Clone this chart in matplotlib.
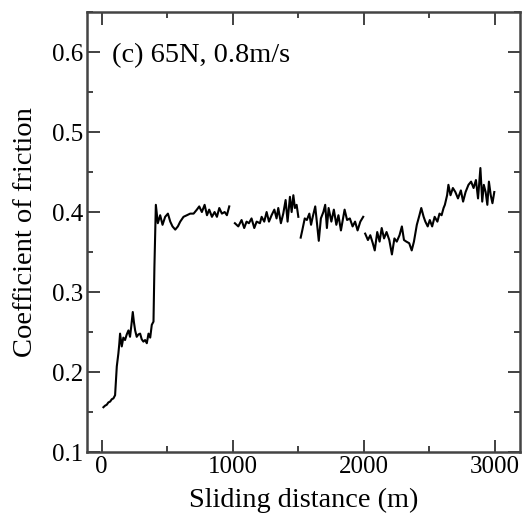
import numpy as np
import matplotlib
matplotlib.use("Agg")
from matplotlib import pyplot as plt
from matplotlib.ticker import MultipleLocator

# friction trace; the record has small gaps near 1000, 1500 and 2000 m
dist_1 = [13, 26, 38, 51, 64, 77, 89, 102, 115, 127, 134, 140, 153, 165, 178, 191, 204, 216, 226, 237,
          246, 255, 267, 280, 293, 305, 318, 331, 344, 357, 370, 382, 395, 402, 413, 428, 446, 464, 484,
          505, 523, 540, 561, 581, 599, 624, 650, 675, 701, 726, 744, 764, 785, 803, 820, 841, 861, 879,
          897, 917, 938, 955, 973]
cof_1 = [0.156, 0.158, 0.159, 0.162, 0.163, 0.166, 0.167, 0.171, 0.207, 0.223, 0.235, 0.248, 0.232,
         0.243, 0.240, 0.247, 0.252, 0.244, 0.258, 0.275, 0.262, 0.252, 0.244, 0.247, 0.248, 0.241,
         0.238, 0.240, 0.236, 0.248, 0.243, 0.259, 0.263, 0.331, 0.409, 0.386, 0.396, 0.384, 0.394,
         0.398, 0.388, 0.382, 0.378, 0.382, 0.388, 0.394, 0.396, 0.398, 0.398, 0.403, 0.407, 0.400,
         0.409, 0.396, 0.403, 0.394, 0.400, 0.394, 0.405, 0.398, 0.400, 0.396, 0.407]

dist_2 = [1016, 1042, 1067, 1087, 1105, 1123, 1143, 1164, 1182, 1207, 1220, 1240, 1258, 1276, 1296,
          1317, 1334, 1347, 1367, 1385, 1403, 1418, 1436, 1449, 1462, 1474, 1487, 1500]
cof_2 = [0.386, 0.382, 0.390, 0.380, 0.388, 0.386, 0.392, 0.380, 0.388, 0.386, 0.394, 0.388, 0.400,
         0.388, 0.396, 0.403, 0.392, 0.405, 0.386, 0.398, 0.415, 0.388, 0.419, 0.400, 0.421, 0.405,
         0.409, 0.394]

dist_3 = [1518, 1530, 1549, 1565, 1584, 1597, 1610, 1629, 1646, 1656, 1672, 1691, 1705, 1718, 1731,
          1752, 1771, 1790, 1806, 1825, 1853, 1872, 1893, 1914, 1933, 1952, 1973, 1995]
cof_3 = [0.368, 0.377, 0.392, 0.390, 0.398, 0.384, 0.394, 0.407, 0.380, 0.364, 0.392, 0.400, 0.409,
         0.380, 0.405, 0.388, 0.403, 0.384, 0.396, 0.377, 0.403, 0.390, 0.392, 0.382, 0.388, 0.377,
         0.388, 0.394]

dist_4 = [2010, 2031, 2049, 2068, 2083, 2102, 2120, 2136, 2154, 2173, 2194, 2214, 2233, 2251, 2272,
          2290, 2306, 2324, 2346, 2365, 2382, 2404, 2424, 2438, 2456, 2469, 2487, 2503, 2521, 2540,
          2561, 2577, 2593, 2608, 2618, 2635, 2645, 2661, 2679, 2698, 2718, 2740, 2757, 2776, 2798,
          2818, 2837, 2855, 2871, 2889, 2903, 2915, 2929, 2942, 2954, 2968, 2981, 2995]
cof_4 = [0.373, 0.365, 0.371, 0.361, 0.352, 0.375, 0.363, 0.380, 0.367, 0.375, 0.365, 0.347, 0.367,
         0.363, 0.371, 0.382, 0.365, 0.363, 0.361, 0.352, 0.363, 0.384, 0.396, 0.405, 0.394, 0.388,
         0.382, 0.390, 0.382, 0.394, 0.388, 0.398, 0.396, 0.405, 0.409, 0.421, 0.434, 0.421, 0.430,
         0.425, 0.417, 0.427, 0.413, 0.425, 0.434, 0.438, 0.430, 0.440, 0.417, 0.455, 0.413, 0.434,
         0.425, 0.409, 0.438, 0.421, 0.411, 0.425]

plt.rcParams['font.family'] = ['Liberation Serif', 'DejaVu Serif']

fig = plt.figure(figsize=(5.31, 5.14), dpi=100)
ax = fig.add_axes([0.1644, 0.1206, 0.8146, 0.856])

for d, c in [(dist_1, cof_1), (dist_2, cof_2), (dist_3, cof_3), (dist_4, cof_4)]:
    ax.plot(d, c, color='black', lw=1.5)

ax.set_xlim(-110, 3190)
ax.set_ylim(0.1, 0.65)
ax.xaxis.set_major_locator(MultipleLocator(1000))
ax.xaxis.set_minor_locator(MultipleLocator(500))
ax.yaxis.set_minor_locator(MultipleLocator(0.05))
ax.set_yticks([0.1, 0.2, 0.3, 0.4, 0.5, 0.6])
ax.set_yticklabels(['0.1', '0.2', '0.3', '0.4', '0.5', '0.6'])

ax.tick_params(which='both', direction='in', top=True, right=True, colors='#333333',
               labelcolor='black', labelsize=18, width=1.3)
ax.tick_params(which='major', length=9, pad=3)
ax.tick_params(which='minor', length=4.5)
for s in ax.spines.values():
    s.set_linewidth(1.8)
    s.set_color('#444444')

ax.set_xlabel('Sliding distance (m)', fontsize=20.3, labelpad=7)
ax.set_ylabel('Coefficient of friction', fontsize=20.5, labelpad=10)
ax.text(0.057, 0.902, '(c) 65N, 0.8m/s', transform=ax.transAxes, fontsize=20.4, va='center', ha='left')

fig.savefig('out.png', dpi=100)
